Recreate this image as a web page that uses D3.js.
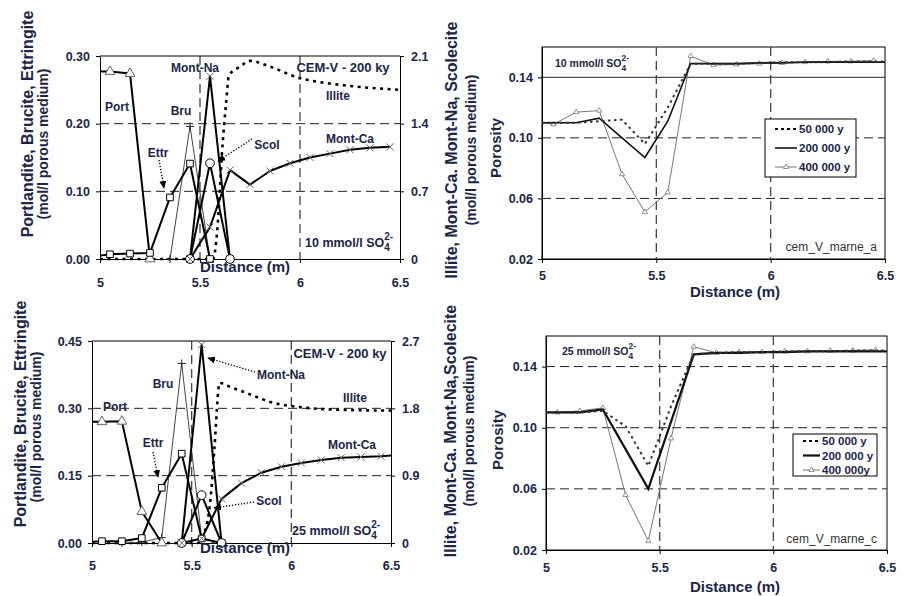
<!DOCTYPE html>
<html>
<head>
<meta charset="utf-8">
<script src="https://cdn.jsdelivr.net/npm/d3@7"></script>
<style>
  body { margin: 0; background: #fff; }
  svg { display: block; font-family: "Liberation Sans", Arial, sans-serif; }
</style>
</head>
<body>
<svg id="fig" width="903" height="596"></svg>
<script>
// ---------------- data ----------------
const distanceTicks = [5, 5.5, 6, 6.5];
const distanceTickLabels = ["5", "5.5", "6", "6.5"];

// Mineral profiles, CEM-V after 200 ky, 10 mmol/l sulfate (distance m, amount)
const port10   = [[5.0, 0.277], [5.05, 0.277], [5.15, 0.274], [5.25, 0.0]];
const ettr10   = [[5.0, 0.005], [5.05, 0.007], [5.15, 0.008], [5.25, 0.009], [5.35, 0.091], [5.45, 0.141], [5.55, 0.0]];
const bru10    = [[5.35, 0.0], [5.45, 0.196], [5.55, 0.0]];
const monNa10  = [[5.45, 0.0], [5.55, 1.89], [5.65, 0.0]];
const scol10   = [[5.45, 0.0], [5.55, 0.99], [5.65, 0.0]];
const monCa10  = [[5.45, 0.0], [5.55, 0.33], [5.65, 0.92], [5.75, 0.77], [5.85, 0.91], [5.95, 0.99], [6.05, 1.05], [6.15, 1.09], [6.25, 1.13], [6.35, 1.15], [6.45, 1.16]];
const illite10 = [[5.0, 0], [5.565, 0], [5.59, 0.4], [5.61, 1.1], [5.63, 1.6], [5.645, 1.9], [5.7, 1.99], [5.75, 2.05], [5.85, 1.99], [6.0, 1.87], [6.1, 1.83], [6.25, 1.79], [6.5, 1.75]];

// Mineral profiles, CEM-V after 200 ky, 25 mmol/l sulfate
const port25   = [[5.0, 0.27], [5.05, 0.27], [5.15, 0.271], [5.25, 0.07], [5.35, 0.0]];
const ettr25   = [[5.0, 0.003], [5.05, 0.004], [5.15, 0.004], [5.25, 0.011], [5.35, 0.123], [5.45, 0.199], [5.55, 0.01], [5.65, 0.0]];
const bru25    = [[5.15, 0.0], [5.25, 0.002], [5.35, 0.012], [5.45, 0.40], [5.55, 0.01], [5.65, 0.0]];
const monNa25  = [[5.45, 0.0], [5.55, 2.65], [5.65, 0.0]];
const scol25   = [[5.45, 0.0], [5.55, 0.64], [5.65, 0.0]];
const monCa25  = [[5.45, 0.0], [5.55, 0.06], [5.65, 0.59], [5.75, 0.80], [5.85, 0.94], [5.95, 1.02], [6.05, 1.07], [6.15, 1.11], [6.25, 1.14], [6.35, 1.15], [6.45, 1.16], [6.5, 1.17]];
const illite25 = [[5.0, 0], [5.53, 0], [5.58, 0.3], [5.6, 0.75], [5.615, 1.3], [5.64, 2.14], [5.7, 2.08], [5.8, 1.98], [5.9, 1.88], [6.0, 1.83], [6.1, 1.8], [6.25, 1.78], [6.5, 1.77]];

// Porosity profiles, 10 mmol/l sulfate
const poro50k10  = [[5.0, 0.11], [5.05, 0.11], [5.15, 0.11], [5.25, 0.111], [5.35, 0.112], [5.45, 0.096], [5.55, 0.12], [5.65, 0.149], [5.75, 0.149], [5.85, 0.149], [5.95, 0.1495], [6.05, 0.15], [6.15, 0.15], [6.25, 0.15], [6.35, 0.1505], [6.45, 0.1505], [6.5, 0.1505]];
const poro200k10 = [[5.0, 0.11], [5.05, 0.11], [5.15, 0.11], [5.25, 0.113], [5.35, 0.10], [5.45, 0.087], [5.55, 0.111], [5.65, 0.149], [5.75, 0.149], [5.85, 0.149], [5.95, 0.1495], [6.05, 0.1495], [6.15, 0.15], [6.25, 0.15], [6.35, 0.15], [6.45, 0.15], [6.5, 0.15]];
const poro400k10 = [[5.0, 0.11], [5.05, 0.109], [5.15, 0.117], [5.25, 0.118], [5.35, 0.076], [5.45, 0.051], [5.55, 0.064], [5.65, 0.154], [5.75, 0.148], [5.85, 0.1485], [5.95, 0.149], [6.05, 0.1495], [6.15, 0.15], [6.25, 0.1505], [6.35, 0.1505], [6.45, 0.151]];

// Porosity profiles, 25 mmol/l sulfate
const poro50k25  = [[5.0, 0.11], [5.05, 0.11], [5.15, 0.11], [5.25, 0.111], [5.35, 0.101], [5.45, 0.075], [5.55, 0.114], [5.65, 0.148], [5.75, 0.149], [5.85, 0.1495], [5.95, 0.1495], [6.05, 0.15], [6.15, 0.15], [6.25, 0.15], [6.35, 0.1505], [6.45, 0.1505], [6.5, 0.1505]];
const poro200k25 = [[5.0, 0.11], [5.05, 0.11], [5.15, 0.11], [5.25, 0.112], [5.35, 0.086], [5.45, 0.06], [5.55, 0.104], [5.65, 0.148], [5.75, 0.149], [5.85, 0.149], [5.95, 0.1495], [6.05, 0.1495], [6.15, 0.15], [6.25, 0.15], [6.35, 0.15], [6.45, 0.15], [6.5, 0.15]];
const poro400k25 = [[5.0, 0.11], [5.05, 0.11], [5.15, 0.111], [5.25, 0.113], [5.35, 0.056], [5.45, 0.026], [5.55, 0.093], [5.65, 0.153], [5.75, 0.149], [5.85, 0.1495], [5.95, 0.1495], [6.05, 0.15], [6.15, 0.15], [6.25, 0.1505], [6.35, 0.1505], [6.45, 0.151]];

const leftTicks10 = [0, 0.10, 0.20, 0.30];
const rightTicks10 = [0, 0.7, 1.4, 2.1];
const rightTickLabels10 = ["0", "0.7", "1.4", "2.1"];
const leftTicks25 = [0, 0.15, 0.30, 0.45];
const rightTicks25 = [0, 0.9, 1.8, 2.7];
const rightTickLabels25 = ["0", "0.9", "1.8", "2.7"];
const porosityTicks = [0.02, 0.06, 0.10, 0.14];
const legendLabels10 = ["50 000 y", "200 000 y", "400 000 y"];
const legendLabels25 = ["50 000 y", "200 000 y", "400 000y"];

// ---------------- drawing ----------------
const svg = d3.select("#fig");
const navy = "#1c2448";

const defs = svg.append("defs");
defs.append("marker")
  .attr("id", "arrow").attr("viewBox", "0 0 10 10")
  .attr("refX", 9).attr("refY", 5)
  .attr("markerWidth", 6).attr("markerHeight", 6)
  .attr("orient", "auto")
  .append("path").attr("d", "M0,0.5L10,5L0,9.5z").attr("fill", "#000");

function styleAxis(g, size) {
  g.attr("font-family", null).attr("font-size", null);
  g.select(".domain").attr("stroke", "#000").attr("stroke-width", 1);
  g.selectAll(".tick line").attr("stroke", "#000");
  g.selectAll(".tick text").attr("fill", navy).attr("font-weight", "bold").attr("font-size", size || 12.5);
}

function label(g, x, y, txt, opts = {}) {
  return g.append("text").attr("x", x).attr("y", y)
    .attr("text-anchor", opts.anchor || "middle")
    .attr("font-weight", opts.weight || "bold")
    .attr("font-size", opts.size || 12)
    .attr("fill", opts.fill || navy)
    .text(txt);
}

function vlabel(g, x, y, txt, size) {
  g.append("text")
    .attr("transform", `translate(${x},${y}) rotate(-90)`)
    .attr("text-anchor", "middle")
    .attr("dominant-baseline", "central")
    .attr("font-weight", "bold").attr("font-size", size)
    .attr("fill", navy).text(txt);
}

// "NN mmol/l SO4(2-)" with stacked sub/superscripts
function sulfateLabel(g, x, y, prefix, size) {
  const t = g.append("text").attr("x", x).attr("y", y)
    .attr("font-weight", "bold").attr("font-size", size).attr("fill", navy);
  t.append("tspan").text(prefix + " SO");
  const sub = t.append("tspan").attr("dy", size * 0.35).attr("font-size", size * 0.8).text("4");
  const w = sub.node().getComputedTextLength();
  t.append("tspan").attr("dx", -w).attr("dy", -size * 0.95).attr("font-size", size * 0.8).text("2-");
}

function dottedArrow(g, x1, y1, x2, y2) {
  g.append("line").attr("x1", x1).attr("y1", y1).attr("x2", x2).attr("y2", y2)
    .attr("stroke", "#000").attr("stroke-width", 1.3)
    .attr("stroke-dasharray", "1.3,1.7")
    .attr("marker-end", "url(#arrow)");
}

function drawMarkers(g, data, x, y, type) {
  const pts = data.filter(d => d[0] > 5.0 && d[0] < 6.5);
  const sel = g.append("g").selectAll("path").data(pts).join("path")
    .attr("transform", d => `translate(${x(d[0])},${y(d[1])})`);
  if (type === "tri") {
    sel.attr("d", d3.symbol(d3.symbolTriangle, 42)).attr("fill", "#fff").attr("stroke", "#666").attr("stroke-width", 1);
  } else if (type === "sq") {
    sel.attr("d", d3.symbol(d3.symbolSquare, 44)).attr("fill", "#fff").attr("stroke", "#000").attr("stroke-width", 1);
  } else if (type === "circ") {
    sel.attr("d", d3.symbol(d3.symbolCircle, 60)).attr("fill", "#fff").attr("stroke", "#000").attr("stroke-width", 1);
  } else if (type === "x") {
    sel.attr("d", "M-3.5,-3.5L3.5,3.5M-3.5,3.5L3.5,-3.5").attr("fill", "none").attr("stroke", "#666").attr("stroke-width", 1);
  } else if (type === "plus") {
    sel.attr("d", "M-4,0H4M0,-4V4").attr("fill", "none").attr("stroke", "#222").attr("stroke-width", 1);
  } else if (type === "smalltri") {
    sel.attr("d", d3.symbol(d3.symbolTriangle, 12)).attr("fill", "#fff").attr("stroke", "#777").attr("stroke-width", 0.8);
  }
}

function chemPanel(p) {
  const g = svg.append("g");
  const x = d3.scaleLinear().domain([5, 6.5]).range([p.x0, p.x1]);
  const yL = d3.scaleLinear().domain([0, p.leftMax]).range([p.yBot, p.yTop]);
  const yR = d3.scaleLinear().domain([0, p.rightMax]).range([p.yBot, p.yTop]);

  // grid
  g.selectAll("line.hg").data(p.leftTicks.slice(1, -1)).join("line")
    .attr("x1", p.x0).attr("x2", p.x1).attr("y1", d => yL(d)).attr("y2", d => yL(d))
    .attr("stroke", "#222").attr("stroke-dasharray", "9,5");
  g.selectAll("line.vg").data([5.5, 6]).join("line")
    .attr("x1", d => x(d)).attr("x2", d => x(d)).attr("y1", p.yTop).attr("y2", p.yBot)
    .attr("stroke", "#444").attr("stroke-width", 1.3).attr("stroke-dasharray", "9,5");
  g.append("line").attr("x1", p.x0).attr("x2", p.x1).attr("y1", p.yTop).attr("y2", p.yTop)
    .attr("stroke", "#000");

  // axes
  const ax = g.append("g").attr("transform", `translate(0,${p.yBot})`)
    .call(d3.axisBottom(x).tickValues(distanceTicks).tickFormat((d, i) => distanceTickLabels[i])
      .tickSize(4).tickSizeOuter(0).tickPadding(p.xPad));
  styleAxis(ax, 12.5);
  const al = g.append("g").attr("transform", `translate(${p.x0},0)`)
    .call(d3.axisLeft(yL).tickValues(p.leftTicks).tickFormat(d3.format(".2f"))
      .tickSize(4).tickSizeOuter(0).tickPadding(6));
  styleAxis(al, 12.5);
  const ar = g.append("g").attr("transform", `translate(${p.x1},0)`)
    .call(d3.axisRight(yR).tickValues(p.rightTicks).tickFormat((d, i) => p.rightTickLabels[i])
      .tickSize(4).tickSizeOuter(0).tickPadding(7));
  styleAxis(ar, 12.5);

  // series
  const series = [
    { data: p.illite, y: yR, width: 2.6, dash: "3,4.5", color: "#000" },
    { data: p.bru, y: yL, width: 1, color: "#444", marker: "plus" },
    { data: p.port, y: yL, width: 2, color: "#000", marker: "tri" },
    { data: p.ettr, y: yL, width: 2, color: "#000", marker: "sq" },
    { data: p.monNa, y: yR, width: 2, color: "#000", marker: "x" },
    { data: p.scol, y: yR, width: 2, color: "#000", marker: "circ" },
    { data: p.monCa, y: yR, width: 2, color: "#000", marker: "x" }
  ];
  series.forEach(s => {
    const line = d3.line().x(d => x(d[0])).y(d => s.y(d[1]));
    if (s.dash) line.curve(d3.curveMonotoneX);
    g.append("path").attr("d", line(s.data)).attr("fill", "none")
      .attr("stroke", s.color).attr("stroke-width", s.width)
      .attr("stroke-dasharray", s.dash || null).attr("stroke-linejoin", "round");
  });
  series.forEach(s => { if (s.marker) drawMarkers(g, s.data, x, s.y, s.marker); });

  // titles
  label(g, p.xTitle[0], p.xTitle[1], "Distance (m)", { size: 15 });
  vlabel(g, p.leftLab[0], p.leftLab[1], "Portlandite, Brucite, Ettringite", 16);
  vlabel(g, p.leftLab2[0], p.leftLab2[1], "(mol/l porous medium)", 14);
  vlabel(g, p.rightLab[0], p.rightLab[1], p.rightTitle, 16);
  vlabel(g, p.rightLab2[0], p.rightLab2[1], "(mol/l porous medium)", 14);

  // annotations
  p.notes.forEach(n => label(g, n[1], n[2], n[0]));
  p.arrows.forEach(a => dottedArrow(g, a[0], a[1], a[2], a[3]));
  label(g, p.cem[0], p.cem[1], "CEM-V - 200 ky", { size: 13 });
  sulfateLabel(g, p.so4[0], p.so4[1], p.so4[2], 12.5);
}

function porosityPanel(p) {
  const g = svg.append("g");
  const x = d3.scaleLinear().domain([5, 6.5]).range([p.x0, p.x1]);
  const y = d3.scaleLinear().domain([0.02, 0.16]).range([p.yBot, p.yTop]);

  g.append("rect").attr("x", p.x0).attr("y", p.yTop).attr("width", p.x1 - p.x0).attr("height", p.yBot - p.yTop)
    .attr("fill", "none").attr("stroke", "#000");
  g.selectAll("line.hg").data([0.06, 0.10, 0.14]).join("line")
    .attr("x1", p.x0).attr("x2", p.x1).attr("y1", d => y(d)).attr("y2", d => y(d))
    .attr("stroke", "#222")
    .attr("stroke-dasharray", d => (d === 0.14 && p.solid14) ? null : "9,5");
  g.selectAll("line.vg").data([5.5, 6]).join("line")
    .attr("x1", d => x(d)).attr("x2", d => x(d)).attr("y1", p.yTop).attr("y2", p.yBot)
    .attr("stroke", "#444").attr("stroke-width", 1.3).attr("stroke-dasharray", "9,5");

  const ax = g.append("g").attr("transform", `translate(0,${p.yBot})`)
    .call(d3.axisBottom(x).tickValues(distanceTicks).tickFormat((d, i) => distanceTickLabels[i])
      .tickSize(4).tickSizeOuter(0).tickPadding(p.xPad));
  styleAxis(ax, 12.5);
  const al = g.append("g").attr("transform", `translate(${p.x0},0)`)
    .call(d3.axisLeft(y).tickValues(porosityTicks).tickFormat(d3.format(".2f"))
      .tickSize(4).tickSizeOuter(0).tickPadding(5));
  styleAxis(al, 12.5);

  const line = d3.line().x(d => x(d[0])).y(d => y(d[1]));
  g.append("path").attr("d", line(p.s400)).attr("fill", "none").attr("stroke", "#777").attr("stroke-width", 1);
  drawMarkers(g, p.s400, x, y, "smalltri");
  g.append("path").attr("d", line(p.s200)).attr("fill", "none").attr("stroke", "#111").attr("stroke-width", p.w200);
  g.append("path").attr("d", line(p.s50)).attr("fill", "none").attr("stroke", "#333").attr("stroke-width", 2)
    .attr("stroke-dasharray", "2.5,3.5");

  // legend
  const L = p.legend;
  g.append("rect").attr("x", L.x).attr("y", L.y).attr("width", L.w).attr("height", L.h)
    .attr("fill", "#fff").attr("stroke", "#000");
  const styles = [
    { stroke: "#000", width: 2, dash: "3,3" },
    { stroke: "#111", width: p.w200, dash: null },
    { stroke: "#777", width: 1, dash: null, tri: true }
  ];
  p.labels.forEach((t, i) => {
    const yy = L.y + L.pad + i * L.step;
    g.append("line").attr("x1", L.x + 10).attr("x2", L.x + L.sample).attr("y1", yy).attr("y2", yy)
      .attr("stroke", styles[i].stroke).attr("stroke-width", styles[i].width)
      .attr("stroke-dasharray", styles[i].dash);
    if (styles[i].tri) {
      g.append("path").attr("transform", `translate(${L.x + 10 + (L.sample - 10) / 2},${yy})`)
        .attr("d", d3.symbol(d3.symbolTriangle, 12)).attr("fill", "#fff").attr("stroke", "#777").attr("stroke-width", 0.8);
    }
    label(g, L.x + L.sample + 2, yy + 4, t, { anchor: "start", size: 11.5 });
  });

  label(g, p.xTitle[0], p.xTitle[1], "Distance (m)", { size: 15 });
  vlabel(g, p.yLab[0], p.yLab[1], "Porosity", 15);
  label(g, p.tag[0], p.tag[1], p.tag[2], { anchor: "end", weight: "normal", size: 12, fill: "#333" });
  sulfateLabel(g, p.so4[0], p.so4[1], p.so4[2], 10.5);
}

chemPanel({
  x0: 100, x1: 400, yTop: 56, yBot: 259, leftMax: 0.30, rightMax: 2.1, xPad: 15,
  leftTicks: leftTicks10, rightTicks: rightTicks10, rightTickLabels: rightTickLabels10,
  port: port10, ettr: ettr10, bru: bru10, monNa: monNa10, scol: scol10, monCa: monCa10, illite: illite10,
  xTitle: [245, 272], leftLab: [27, 124], leftLab2: [43, 144], rightLab: [451, 150], rightLab2: [471, 150],
  rightTitle: "Illite, Mont-Ca. Mont-Na, Scolecite",
  notes: [["Port", 117, 111], ["Ettr", 158, 157], ["Bru", 181, 115], ["Mont-Na", 195, 72],
          ["Scol", 267, 149], ["Mont-Ca", 350, 143], ["Illite", 338, 100]],
  arrows: [[159, 160, 164, 188], [252, 139, 218, 161]],
  cem: [343, 72], so4: [305, 247, "10 mmol/l"]
});

chemPanel({
  x0: 92, x1: 391, yTop: 341, yBot: 543, leftMax: 0.45, rightMax: 2.7, xPad: 14,
  leftTicks: leftTicks25, rightTicks: rightTicks25, rightTickLabels: rightTickLabels25,
  port: port25, ettr: ettr25, bru: bru25, monNa: monNa25, scol: scol25, monCa: monCa25, illite: illite25,
  xTitle: [245, 553], leftLab: [20, 414], leftLab2: [36, 427], rightLab: [450, 431], rightLab2: [469, 431],
  rightTitle: "Illite, Mont-Ca. Mont-Na,Scolecite",
  notes: [["Port", 115, 411], ["Ettr", 153, 447], ["Bru", 163, 388], ["Mont-Na", 281, 379],
          ["Illite", 355, 402], ["Mont-Ca", 352, 449], ["Scol", 269, 505]],
  arrows: [[153, 452, 158, 477], [255, 372, 208, 358], [254, 502, 214, 508]],
  cem: [340, 358], so4: [292, 535, "25 mmol/l"]
});

porosityPanel({
  x0: 542, x1: 885, yTop: 47, yBot: 259, xPad: 8, solid14: true, w200: 1.6,
  s50: poro50k10, s200: poro200k10, s400: poro400k10,
  legend: { x: 765, y: 119, w: 91, h: 58, pad: 10, step: 19, sample: 32 },
  labels: legendLabels10,
  xTitle: [735, 297], yLab: [495, 148], tag: [877, 251, "cem_V_marne_a"], so4: [555, 67, "10 mmol/l"]
});

porosityPanel({
  x0: 546, x1: 887, yTop: 336, yBot: 550, xPad: 9, solid14: false, w200: 2.2,
  s50: poro50k25, s200: poro200k25, s400: poro400k25,
  legend: { x: 793, y: 434, w: 84, h: 42, pad: 7, step: 14.5, sample: 27 },
  labels: legendLabels25,
  xTitle: [735, 592], yLab: [497, 440], tag: [877, 543, "cem_V_marne_c"], so4: [562, 355, "25 mmol/l"]
});
</script>
</body>
</html>
